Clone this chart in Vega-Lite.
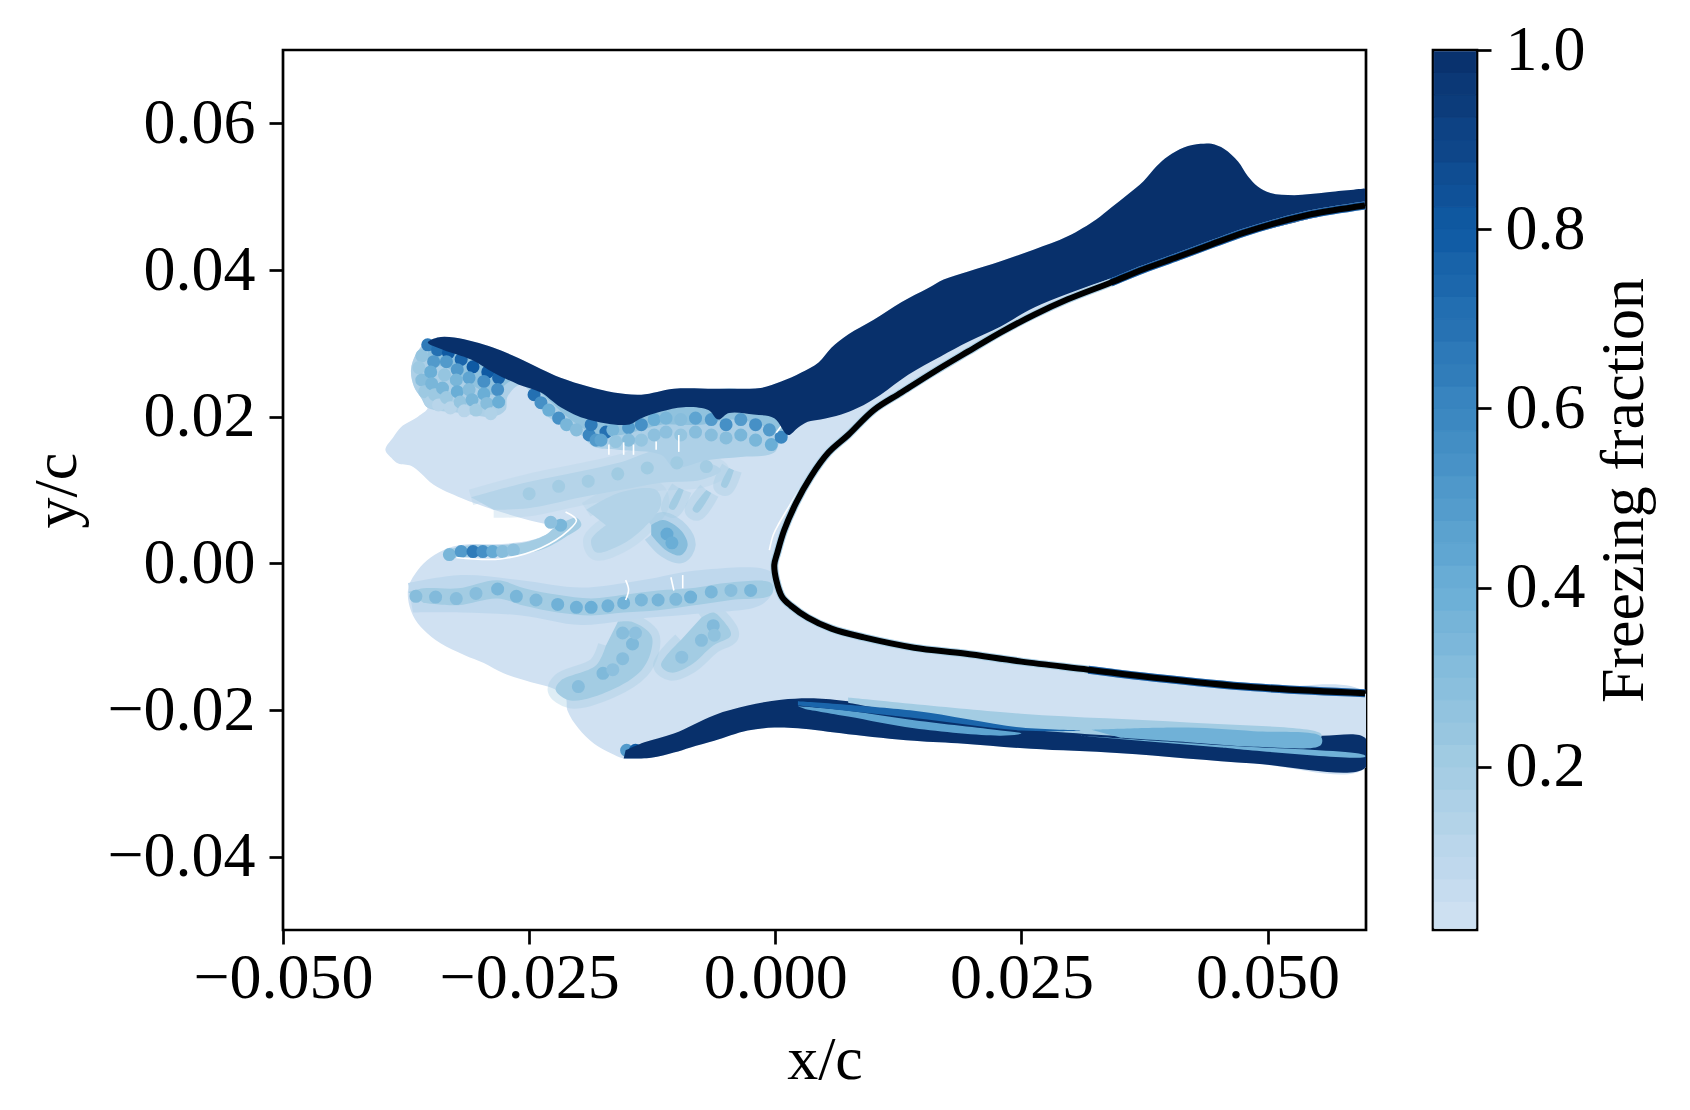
{"$schema":"https://vega.github.io/schema/vega-lite/v6.json","background":"white","padding":{"left":24,"top":16,"right":0,"bottom":0},"spacing":48,"config":{"font":"Liberation Serif","view":{"stroke":"black","strokeWidth":2.7}},
"hconcat":[
{"width":1083,"height":880,
"encoding":{
"x":{"field":"x","type":"quantitative","scale":{"domain":[-0.05,0.06],"nice":false,"zero":false},"axis":{"values":[-0.05,-0.025,0,0.025,0.05],"format":".3f","grid":false,"domain":false,"tickSize":14,"tickWidth":2.7,"tickColor":"black","labelFont":"Liberation Serif","labelFontSize":64,"labelColor":"black","labelPadding":2,"labelLimit":400,"title":"x/c","titleFont":"Liberation Serif","titleFontSize":62,"titleFontWeight":"normal","titleColor":"black","titlePadding":19,"labelFlush":false,"labelOverlap":false}},
"y":{"field":"y","type":"quantitative","scale":{"domain":[-0.05,0.07],"nice":false,"zero":false},"axis":{"values":[-0.04,-0.02,0,0.02,0.04,0.06],"format":".2f","grid":false,"domain":false,"tickSize":14,"tickWidth":2.7,"tickColor":"black","labelFont":"Liberation Serif","labelFontSize":64,"labelColor":"black","labelPadding":14,"labelLimit":400,"title":"y/c","titleFont":"Liberation Serif","titleFontSize":62,"titleFontWeight":"normal","titleColor":"black","titlePadding":18,"labelFlush":false,"labelOverlap":false}}
},
"layer":[
{"data":{"name":"base"},"transform":[{"window":[{"op":"row_number","as":"i"}]}],"mark":{"type":"line","stroke":"transparent","interpolate":"catmull-rom","clip":true},"encoding":{"order":{"field":"i","type":"quantitative"},"detail":{"field":"p"},"fill":{"field":"f","type":"quantitative","legend":null,"scale":{"domain":[0.018,0.2,0.4,0.6,0.8,1],"range":["#d0e1f2","#a3cce3","#6aaed6","#3a86c0","#0f5aa3","#08306b"]}}}},
{"data":{"name":"bands"},"transform":[{"window":[{"op":"row_number","as":"i"}]},{"filter":"datum.p!='U1'&&datum.p!='U2'&&datum.p!='L1'&&datum.p!='L2'&&datum.p!='H1'"}],"mark":{"type":"line","strokeWidth":16,"opacity":0.35,"strokeJoin":"round","interpolate":"catmull-rom","fill":"transparent"},"encoding":{"order":{"field":"i","type":"quantitative"},"detail":{"field":"p"},"stroke":{"field":"f","type":"quantitative","legend":null,"scale":{"domain":[0.018,0.2,0.4,0.6,0.8,1],"range":["#d0e1f2","#a3cce3","#6aaed6","#3a86c0","#0f5aa3","#08306b"]}}}},
{"data":{"name":"bands"},"transform":[{"window":[{"op":"row_number","as":"i"}]}],"mark":{"type":"line","stroke":"transparent","interpolate":"catmull-rom"},"encoding":{"order":{"field":"i","type":"quantitative"},"detail":{"field":"p"},"fill":{"field":"f","type":"quantitative","legend":null}}},
{"data":{"name":"scales"},"mark":{"type":"circle","size":170,"opacity":1},"encoding":{"fill":{"field":"f","type":"quantitative","legend":null}}},
{"data":{"name":"white"},"transform":[{"window":[{"op":"row_number","as":"i"}]}],"mark":{"type":"line","stroke":"white","strokeWidth":1.6,"interpolate":"catmull-rom"},"encoding":{"order":{"field":"i","type":"quantitative"},"detail":{"field":"p"}}},
{"data":{"name":"dark"},"transform":[{"window":[{"op":"row_number","as":"i"}]}],"mark":{"type":"line","stroke":"transparent","interpolate":"catmull-rom","clip":true},"encoding":{"order":{"field":"i","type":"quantitative"},"detail":{"field":"p"},"fill":{"field":"f","type":"quantitative","legend":null}}},
{"data":{"name":"foil"},"transform":[{"window":[{"op":"row_number","as":"i"}]}],"mark":{"type":"line","stroke":"#a9cfe6","strokeWidth":8,"interpolate":"catmull-rom"},"encoding":{"order":{"field":"i","type":"quantitative"}}},
{"data":{"name":"foil"},"transform":[{"window":[{"op":"row_number","as":"i"}]},{"filter":"datum.x>=0.03"}],"mark":{"type":"line","stroke":"#1c5fa8","strokeWidth":8,"interpolate":"catmull-rom"},"encoding":{"order":{"field":"i","type":"quantitative"},"detail":{"field":"s"}}},
{"data":{"name":"foil"},"transform":[{"window":[{"op":"row_number","as":"i"}]}],"mark":{"type":"line","stroke":"black","strokeWidth":6,"interpolate":"catmull-rom"},"encoding":{"order":{"field":"i","type":"quantitative"}}}
]},
{"width":44,"height":880,"data":{"name":"bar"},"mark":{"type":"rect","strokeWidth":1},
"encoding":{
"x":{"field":"a","type":"quantitative","axis":null,"scale":{"domain":[-0.03,1.03],"nice":false,"zero":false}},
"x2":{"field":"b"},
"y":{"field":"lo","type":"quantitative","scale":{"domain":[0.018,1],"nice":false,"zero":false},"axis":{"orient":"right","values":[0.2,0.4,0.6,0.8,1],"format":".1f","grid":false,"domain":false,"tickSize":14,"tickWidth":2.7,"tickColor":"black","labelFont":"Liberation Serif","labelFontSize":64,"labelColor":"black","labelPadding":14,"title":"Freezing fraction","titleFont":"Liberation Serif","titleFontSize":62,"titleFontWeight":"normal","titleColor":"black","titleAngle":270,"titleBaseline":"top","titlePadding":8,"labelFlush":false,"labelOverlap":false}},
"y2":{"field":"hi"},
"fill":{"field":"m","type":"quantitative","legend":null},
"stroke":{"field":"m","type":"quantitative","legend":null,"scale":{"domain":[0.018,0.2,0.4,0.6,0.8,1],"range":["#d0e1f2","#a3cce3","#6aaed6","#3a86c0","#0f5aa3","#08306b"]}}
}}
],
"resolve":{"scale":{"fill":"shared","stroke":"independent"}},
"datasets":{
"foil":[{"s":"l","x":0.0599,"y":-0.0177},{"s":"l","x":0.0486,"y":-0.0169},{"s":"l","x":0.0385,"y":-0.0156},{"s":"l","x":0.0318,"y":-0.0145},{"s":"l","x":0.025,"y":-0.0134},{"s":"l","x":0.0192,"y":-0.0123},{"s":"l","x":0.0141,"y":-0.0115},{"s":"l","x":0.009,"y":-0.0101},{"s":"l","x":0.0057,"y":-0.0089},{"s":"l","x":0.0033,"y":-0.0074},{"s":"l","x":0.0016,"y":-0.0058},{"s":"l","x":0.0007,"y":-0.0046},{"s":"l","x":0.0001,"y":-0.0023},{"s":"l","x":-0.0001,"y":-0.0002},{"s":"u","x":0.0002,"y":0.0014},{"s":"u","x":0.0009,"y":0.0045},{"s":"u","x":0.0021,"y":0.0082},{"s":"u","x":0.0036,"y":0.0118},{"s":"u","x":0.0054,"y":0.0151},{"s":"u","x":0.0074,"y":0.0175},{"s":"u","x":0.01,"y":0.0209},{"s":"u","x":0.0128,"y":0.0233},{"s":"u","x":0.0161,"y":0.0261},{"s":"u","x":0.0196,"y":0.0289},{"s":"u","x":0.0229,"y":0.0315},{"s":"u","x":0.0263,"y":0.0339},{"s":"u","x":0.0297,"y":0.036},{"s":"u","x":0.0341,"y":0.0383},{"s":"u","x":0.0374,"y":0.0401},{"s":"u","x":0.0409,"y":0.0418},{"s":"u","x":0.0443,"y":0.0435},{"s":"u","x":0.0476,"y":0.0451},{"s":"u","x":0.0511,"y":0.0465},{"s":"u","x":0.0544,"y":0.0476},{"s":"u","x":0.0599,"y":0.0488}],
"base":[{"p":"b","f":0.02,"x":0.0599,"y":0.0511},{"p":"b","f":0.02,"x":0.0561,"y":0.0506},{"p":"b","f":0.02,"x":0.0527,"y":0.0502},{"p":"b","f":0.02,"x":0.0503,"y":0.0505},{"p":"b","f":0.02,"x":0.049,"y":0.0514},{"p":"b","f":0.02,"x":0.048,"y":0.0528},{"p":"b","f":0.02,"x":0.047,"y":0.0548},{"p":"b","f":0.02,"x":0.0456,"y":0.0565},{"p":"b","f":0.02,"x":0.0443,"y":0.0572},{"p":"b","f":0.02,"x":0.0432,"y":0.0572},{"p":"b","f":0.02,"x":0.0415,"y":0.0567},{"p":"b","f":0.02,"x":0.0399,"y":0.0555},{"p":"b","f":0.02,"x":0.0387,"y":0.0541},{"p":"b","f":0.02,"x":0.0374,"y":0.0521},{"p":"b","f":0.02,"x":0.0358,"y":0.0503},{"p":"b","f":0.02,"x":0.0341,"y":0.0485},{"p":"b","f":0.02,"x":0.0326,"y":0.0469},{"p":"b","f":0.02,"x":0.0297,"y":0.0446},{"p":"b","f":0.02,"x":0.0263,"y":0.0428},{"p":"b","f":0.02,"x":0.0229,"y":0.0412},{"p":"b","f":0.02,"x":0.0196,"y":0.0398},{"p":"b","f":0.02,"x":0.0171,"y":0.0387},{"p":"b","f":0.02,"x":0.0155,"y":0.0375},{"p":"b","f":0.02,"x":0.0128,"y":0.0356},{"p":"b","f":0.02,"x":0.01,"y":0.0332},{"p":"b","f":0.02,"x":0.0074,"y":0.0312},{"p":"b","f":0.02,"x":0.0057,"y":0.0294},{"p":"b","f":0.02,"x":0.0044,"y":0.0274},{"p":"b","f":0.02,"x":0.0026,"y":0.026},{"p":"b","f":0.02,"x":0.0006,"y":0.0248},{"p":"b","f":0.02,"x":-0.0015,"y":0.0239},{"p":"b","f":0.02,"x":-0.0035,"y":0.0238},{"p":"b","f":0.02,"x":-0.0062,"y":0.0238},{"p":"b","f":0.02,"x":-0.0103,"y":0.0238},{"p":"b","f":0.02,"x":-0.0136,"y":0.023},{"p":"b","f":0.02,"x":-0.0164,"y":0.0233},{"p":"b","f":0.02,"x":-0.019,"y":0.0241},{"p":"b","f":0.02,"x":-0.0218,"y":0.0253},{"p":"b","f":0.02,"x":-0.0238,"y":0.0265},{"p":"b","f":0.02,"x":-0.0261,"y":0.028},{"p":"b","f":0.02,"x":-0.0286,"y":0.0294},{"p":"b","f":0.02,"x":-0.0306,"y":0.0302},{"p":"b","f":0.02,"x":-0.0326,"y":0.0308},{"p":"b","f":0.02,"x":-0.0343,"y":0.0308},{"p":"b","f":0.02,"x":-0.0355,"y":0.0301},{"p":"b","f":0.02,"x":-0.0365,"y":0.0285},{"p":"b","f":0.02,"x":-0.037,"y":0.0264},{"p":"b","f":0.02,"x":-0.0367,"y":0.0241},{"p":"b","f":0.02,"x":-0.036,"y":0.0226},{"p":"b","f":0.02,"x":-0.0353,"y":0.0212},{"p":"b","f":0.02,"x":-0.0363,"y":0.02},{"p":"b","f":0.02,"x":-0.038,"y":0.0186},{"p":"b","f":0.02,"x":-0.0388,"y":0.0172},{"p":"b","f":0.02,"x":-0.0396,"y":0.0155},{"p":"b","f":0.02,"x":-0.039,"y":0.0144},{"p":"b","f":0.02,"x":-0.0383,"y":0.0136},{"p":"b","f":0.02,"x":-0.037,"y":0.0133},{"p":"b","f":0.02,"x":-0.036,"y":0.0123},{"p":"b","f":0.02,"x":-0.0347,"y":0.0107},{"p":"b","f":0.02,"x":-0.0319,"y":0.0089},{"p":"b","f":0.02,"x":-0.0286,"y":0.0073},{"p":"b","f":0.02,"x":-0.0251,"y":0.0059},{"p":"b","f":0.02,"x":-0.0223,"y":0.0048},{"p":"b","f":0.02,"x":-0.0238,"y":0.0036},{"p":"b","f":0.02,"x":-0.0258,"y":0.0029},{"p":"b","f":0.02,"x":-0.0286,"y":0.0026},{"p":"b","f":0.02,"x":-0.0312,"y":0.0026},{"p":"b","f":0.02,"x":-0.0332,"y":0.0021},{"p":"b","f":0.02,"x":-0.035,"y":0.0008},{"p":"b","f":0.02,"x":-0.0363,"y":-0.0009},{"p":"b","f":0.02,"x":-0.0372,"y":-0.003},{"p":"b","f":0.02,"x":-0.0373,"y":-0.0048},{"p":"b","f":0.02,"x":-0.0368,"y":-0.0071},{"p":"b","f":0.02,"x":-0.0357,"y":-0.0091},{"p":"b","f":0.02,"x":-0.034,"y":-0.0109},{"p":"b","f":0.02,"x":-0.0316,"y":-0.0125},{"p":"b","f":0.02,"x":-0.0296,"y":-0.0136},{"p":"b","f":0.02,"x":-0.0276,"y":-0.015},{"p":"b","f":0.02,"x":-0.0248,"y":-0.0162},{"p":"b","f":0.02,"x":-0.0225,"y":-0.0171},{"p":"b","f":0.02,"x":-0.0213,"y":-0.0183},{"p":"b","f":0.02,"x":-0.0211,"y":-0.0201},{"p":"b","f":0.02,"x":-0.02,"y":-0.0225},{"p":"b","f":0.02,"x":-0.0184,"y":-0.0246},{"p":"b","f":0.02,"x":-0.0167,"y":-0.0259},{"p":"b","f":0.02,"x":-0.0154,"y":-0.0266},{"p":"b","f":0.02,"x":-0.0126,"y":-0.0265},{"p":"b","f":0.02,"x":-0.0103,"y":-0.0258},{"p":"b","f":0.02,"x":-0.0086,"y":-0.0251},{"p":"b","f":0.02,"x":-0.0062,"y":-0.0242},{"p":"b","f":0.02,"x":-0.0028,"y":-0.0228},{"p":"b","f":0.02,"x":-0.0001,"y":-0.0224},{"p":"b","f":0.02,"x":0.0023,"y":-0.0225},{"p":"b","f":0.02,"x":0.0074,"y":-0.0233},{"p":"b","f":0.02,"x":0.0141,"y":-0.0242},{"p":"b","f":0.02,"x":0.0192,"y":-0.0246},{"p":"b","f":0.02,"x":0.026,"y":-0.0253},{"p":"b","f":0.02,"x":0.0351,"y":-0.0259},{"p":"b","f":0.02,"x":0.0486,"y":-0.0273},{"p":"b","f":0.02,"x":0.0599,"y":-0.0279},{"p":"b","f":0.02,"x":0.0599,"y":-0.0177},{"p":"b","f":0.02,"x":0.0486,"y":-0.0169},{"p":"b","f":0.02,"x":0.0385,"y":-0.0156},{"p":"b","f":0.02,"x":0.0318,"y":-0.0145},{"p":"b","f":0.02,"x":0.025,"y":-0.0134},{"p":"b","f":0.02,"x":0.0192,"y":-0.0123},{"p":"b","f":0.02,"x":0.0141,"y":-0.0115},{"p":"b","f":0.02,"x":0.009,"y":-0.0101},{"p":"b","f":0.02,"x":0.0057,"y":-0.0089},{"p":"b","f":0.02,"x":0.0033,"y":-0.0074},{"p":"b","f":0.02,"x":0.0016,"y":-0.0058},{"p":"b","f":0.02,"x":0.0007,"y":-0.0046},{"p":"b","f":0.02,"x":0.0001,"y":-0.0023},{"p":"b","f":0.02,"x":-0.0001,"y":-0.0002},{"p":"b","f":0.02,"x":0.0002,"y":0.0014},{"p":"b","f":0.02,"x":0.0009,"y":0.0045},{"p":"b","f":0.02,"x":0.0021,"y":0.0082},{"p":"b","f":0.02,"x":0.0036,"y":0.0118},{"p":"b","f":0.02,"x":0.0054,"y":0.0151},{"p":"b","f":0.02,"x":0.0074,"y":0.0175},{"p":"b","f":0.02,"x":0.01,"y":0.0209},{"p":"b","f":0.02,"x":0.0128,"y":0.0233},{"p":"b","f":0.02,"x":0.0161,"y":0.0261},{"p":"b","f":0.02,"x":0.0196,"y":0.0289},{"p":"b","f":0.02,"x":0.0229,"y":0.0315},{"p":"b","f":0.02,"x":0.0263,"y":0.0339},{"p":"b","f":0.02,"x":0.0297,"y":0.036},{"p":"b","f":0.02,"x":0.0341,"y":0.0383},{"p":"b","f":0.02,"x":0.0374,"y":0.0401},{"p":"b","f":0.02,"x":0.0409,"y":0.0418},{"p":"b","f":0.02,"x":0.0443,"y":0.0435},{"p":"b","f":0.02,"x":0.0476,"y":0.0451},{"p":"b","f":0.02,"x":0.0511,"y":0.0465},{"p":"b","f":0.02,"x":0.0544,"y":0.0476},{"p":"b","f":0.02,"x":0.0599,"y":0.0488}],
"bands":[
{"p":"L1","f":0.09,"x":-0.0373,"y":-0.0027},{"p":"L1","f":0.09,"x":-0.0319,"y":-0.0016},{"p":"L1","f":0.09,"x":-0.0258,"y":-0.0023},{"p":"L1","f":0.09,"x":-0.0197,"y":-0.0033},{"p":"L1","f":0.09,"x":-0.0136,"y":-0.0023},{"p":"L1","f":0.09,"x":-0.0075,"y":-0.0009},{"p":"L1","f":0.09,"x":-0.0004,"y":-0.0012},{"p":"L1","f":0.09,"x":-0.0002,"y":-0.0037},{"p":"L1","f":0.09,"x":-0.0015,"y":-0.0057},{"p":"L1","f":0.09,"x":-0.0075,"y":-0.0068},{"p":"L1","f":0.09,"x":-0.0136,"y":-0.0075},{"p":"L1","f":0.09,"x":-0.0197,"y":-0.0084},{"p":"L1","f":0.09,"x":-0.0258,"y":-0.0071},{"p":"L1","f":0.09,"x":-0.0319,"y":-0.0067},{"p":"L1","f":0.09,"x":-0.0368,"y":-0.0067},
{"p":"L2","f":0.2,"x":-0.0373,"y":-0.0039},{"p":"L2","f":0.2,"x":-0.0357,"y":-0.0034},{"p":"L2","f":0.2,"x":-0.0322,"y":-0.0034},{"p":"L2","f":0.2,"x":-0.0282,"y":-0.0023},{"p":"L2","f":0.2,"x":-0.0255,"y":-0.0034},{"p":"L2","f":0.2,"x":-0.0221,"y":-0.0043},{"p":"L2","f":0.2,"x":-0.0187,"y":-0.0048},{"p":"L2","f":0.2,"x":-0.0154,"y":-0.0043},{"p":"L2","f":0.2,"x":-0.0119,"y":-0.0037},{"p":"L2","f":0.2,"x":-0.0086,"y":-0.0034},{"p":"L2","f":0.2,"x":-0.0045,"y":-0.0026},{"p":"L2","f":0.2,"x":-0.0004,"y":-0.0027},{"p":"L2","f":0.2,"x":-0.0004,"y":-0.0043},{"p":"L2","f":0.2,"x":-0.0045,"y":-0.005},{"p":"L2","f":0.2,"x":-0.0086,"y":-0.0058},{"p":"L2","f":0.2,"x":-0.0119,"y":-0.0064},{"p":"L2","f":0.2,"x":-0.0154,"y":-0.0067},{"p":"L2","f":0.2,"x":-0.0187,"y":-0.0071},{"p":"L2","f":0.2,"x":-0.0221,"y":-0.0067},{"p":"L2","f":0.2,"x":-0.0255,"y":-0.0058},{"p":"L2","f":0.2,"x":-0.0282,"y":-0.0048},{"p":"L2","f":0.2,"x":-0.0322,"y":-0.0057},{"p":"L2","f":0.2,"x":-0.0357,"y":-0.0054},
{"p":"B1","f":0.2,"x":-0.016,"y":-0.008},{"p":"B1","f":0.2,"x":-0.0145,"y":-0.008},{"p":"B1","f":0.2,"x":-0.0126,"y":-0.0098},{"p":"B1","f":0.2,"x":-0.0126,"y":-0.0119},{"p":"B1","f":0.2,"x":-0.0136,"y":-0.0146},{"p":"B1","f":0.2,"x":-0.0167,"y":-0.0173},{"p":"B1","f":0.2,"x":-0.0208,"y":-0.0187},{"p":"B1","f":0.2,"x":-0.0223,"y":-0.0173},{"p":"B1","f":0.2,"x":-0.0218,"y":-0.016},{"p":"B1","f":0.2,"x":-0.0182,"y":-0.0139},{"p":"B1","f":0.2,"x":-0.0172,"y":-0.0112},
{"p":"B2","f":0.2,"x":-0.0075,"y":-0.0074},{"p":"B2","f":0.2,"x":-0.0063,"y":-0.0067},{"p":"B2","f":0.2,"x":-0.0053,"y":-0.0078},{"p":"B2","f":0.2,"x":-0.0045,"y":-0.0098},{"p":"B2","f":0.2,"x":-0.0063,"y":-0.0112},{"p":"B2","f":0.2,"x":-0.0086,"y":-0.0139},{"p":"B2","f":0.2,"x":-0.0106,"y":-0.0149},{"p":"B2","f":0.2,"x":-0.0116,"y":-0.0139},{"p":"B2","f":0.2,"x":-0.0096,"y":-0.0105},
{"p":"M","f":0.13,"x":-0.0309,"y":0.009},{"p":"M","f":0.13,"x":-0.0251,"y":0.0111},{"p":"M","f":0.13,"x":-0.02,"y":0.0125},{"p":"M","f":0.13,"x":-0.0157,"y":0.0138},{"p":"M","f":0.13,"x":-0.0116,"y":0.0155},{"p":"M","f":0.13,"x":-0.0075,"y":0.0141},{"p":"M","f":0.13,"x":-0.0055,"y":0.0127},{"p":"M","f":0.13,"x":-0.0075,"y":0.0114},{"p":"M","f":0.13,"x":-0.0116,"y":0.011},{"p":"M","f":0.13,"x":-0.0157,"y":0.01},{"p":"M","f":0.13,"x":-0.0197,"y":0.009},{"p":"M","f":0.13,"x":-0.0251,"y":0.0075},{"p":"M","f":0.13,"x":-0.0286,"y":0.0073},
{"p":"H1","f":0.2,"x":-0.0332,"y":0.0019},{"p":"H1","f":0.2,"x":-0.0309,"y":0.0025},{"p":"H1","f":0.2,"x":-0.0279,"y":0.0025},{"p":"H1","f":0.2,"x":-0.0253,"y":0.0029},{"p":"H1","f":0.2,"x":-0.0233,"y":0.0039},{"p":"H1","f":0.2,"x":-0.0225,"y":0.0048},{"p":"H1","f":0.2,"x":-0.0202,"y":0.0062},{"p":"H1","f":0.2,"x":-0.0197,"y":0.0052},{"p":"H1","f":0.2,"x":-0.0213,"y":0.0036},{"p":"H1","f":0.2,"x":-0.0233,"y":0.0021},{"p":"H1","f":0.2,"x":-0.0263,"y":0.0011},{"p":"H1","f":0.2,"x":-0.0299,"y":0.001},{"p":"H1","f":0.2,"x":-0.0329,"y":0.0007},
{"p":"H2","f":0.14,"x":-0.0192,"y":0.0073},{"p":"H2","f":0.14,"x":-0.0157,"y":0.0097},{"p":"H2","f":0.14,"x":-0.0121,"y":0.01},{"p":"H2","f":0.14,"x":-0.0116,"y":0.008},{"p":"H2","f":0.14,"x":-0.0136,"y":0.0045},{"p":"H2","f":0.14,"x":-0.0157,"y":0.0025},{"p":"H2","f":0.14,"x":-0.0182,"y":0.0015},{"p":"H2","f":0.14,"x":-0.0187,"y":0.0032},{"p":"H2","f":0.14,"x":-0.0172,"y":0.0052},
{"p":"P1","f":0.3,"x":-0.0126,"y":0.0052},{"p":"P1","f":0.3,"x":-0.0114,"y":0.0059},{"p":"P1","f":0.3,"x":-0.0096,"y":0.0045},{"p":"P1","f":0.3,"x":-0.0089,"y":0.0025},{"p":"P1","f":0.3,"x":-0.0096,"y":0.0011},{"p":"P1","f":0.3,"x":-0.0111,"y":0.0018},{"p":"P1","f":0.3,"x":-0.0126,"y":0.0039},
{"p":"S1","f":0.2,"x":-0.0093,"y":0.01},{"p":"S1","f":0.2,"x":-0.0103,"y":0.0073},{"p":"S1","f":0.2,"x":-0.0108,"y":0.0076},{"p":"S1","f":0.2,"x":-0.0098,"y":0.0103},
{"p":"S2","f":0.2,"x":-0.0065,"y":0.0096},{"p":"S2","f":0.2,"x":-0.0079,"y":0.0069},{"p":"S2","f":0.2,"x":-0.0084,"y":0.0073},{"p":"S2","f":0.2,"x":-0.007,"y":0.01},
{"p":"S3","f":0.2,"x":-0.0042,"y":0.0127},{"p":"S3","f":0.2,"x":-0.005,"y":0.0103},{"p":"S3","f":0.2,"x":-0.0055,"y":0.0106},{"p":"S3","f":0.2,"x":-0.0047,"y":0.013},
{"p":"U1","f":0.16,"x":-0.0343,"y":0.0308},{"p":"U1","f":0.16,"x":-0.0355,"y":0.0301},{"p":"U1","f":0.16,"x":-0.0365,"y":0.0285},{"p":"U1","f":0.16,"x":-0.037,"y":0.0264},{"p":"U1","f":0.16,"x":-0.0367,"y":0.0241},{"p":"U1","f":0.16,"x":-0.036,"y":0.0226},{"p":"U1","f":0.16,"x":-0.0353,"y":0.0212},{"p":"U1","f":0.16,"x":-0.0319,"y":0.0205},{"p":"U1","f":0.16,"x":-0.0286,"y":0.02},{"p":"U1","f":0.16,"x":-0.0274,"y":0.0209},{"p":"U1","f":0.16,"x":-0.0272,"y":0.0227},{"p":"U1","f":0.16,"x":-0.0258,"y":0.0244},{"p":"U1","f":0.16,"x":-0.0231,"y":0.02},{"p":"U1","f":0.16,"x":-0.02,"y":0.0178},{"p":"U1","f":0.16,"x":-0.0184,"y":0.0159},{"p":"U1","f":0.16,"x":-0.016,"y":0.0155},{"p":"U1","f":0.16,"x":-0.0116,"y":0.0148},{"p":"U1","f":0.16,"x":-0.0103,"y":0.0131},{"p":"U1","f":0.16,"x":-0.0068,"y":0.0141},{"p":"U1","f":0.16,"x":-0.0035,"y":0.0145},{"p":"U1","f":0.16,"x":-0.0001,"y":0.0151},{"p":"U1","f":0.16,"x":0.0006,"y":0.0171},{"p":"U1","f":0.16,"x":0.0013,"y":0.0175},{"p":"U1","f":0.16,"x":0.0013,"y":0.0196},{"p":"U1","f":0.16,"x":-0.0136,"y":0.0223},{"p":"U1","f":0.16,"x":-0.0238,"y":0.025},{"p":"U1","f":0.16,"x":-0.0286,"y":0.0278},
{"p":"U2","f":0.27,"x":-0.035,"y":0.0298},{"p":"U2","f":0.27,"x":-0.0353,"y":0.0278},{"p":"U2","f":0.27,"x":-0.0329,"y":0.0264},{"p":"U2","f":0.27,"x":-0.0309,"y":0.0244},{"p":"U2","f":0.27,"x":-0.0284,"y":0.023},{"p":"U2","f":0.27,"x":-0.0274,"y":0.0244},{"p":"U2","f":0.27,"x":-0.0258,"y":0.0253},{"p":"U2","f":0.27,"x":-0.0233,"y":0.0226},{"p":"U2","f":0.27,"x":-0.0208,"y":0.0196},{"p":"U2","f":0.27,"x":-0.0187,"y":0.0179},{"p":"U2","f":0.27,"x":-0.0157,"y":0.0175},{"p":"U2","f":0.27,"x":-0.0136,"y":0.0182},{"p":"U2","f":0.27,"x":-0.0116,"y":0.0189},{"p":"U2","f":0.27,"x":-0.0096,"y":0.0189},{"p":"U2","f":0.27,"x":-0.0075,"y":0.0189},{"p":"U2","f":0.27,"x":-0.0045,"y":0.0196},{"p":"U2","f":0.27,"x":-0.0015,"y":0.0189},{"p":"U2","f":0.27,"x":0.0006,"y":0.0175},{"p":"U2","f":0.27,"x":0.0013,"y":0.0175},{"p":"U2","f":0.27,"x":0.0026,"y":0.0196},{"p":"U2","f":0.27,"x":-0.0035,"y":0.0237},{"p":"U2","f":0.27,"x":-0.0136,"y":0.0223},{"p":"U2","f":0.27,"x":-0.0238,"y":0.025},{"p":"U2","f":0.27,"x":-0.0286,"y":0.0278}
],
"scales":[
{"f":0.3,"x":-0.0155,"y":-0.0095},{"f":0.33,"x":-0.0145,"y":-0.011},{"f":0.3,"x":-0.0155,"y":-0.013},{"f":0.33,"x":-0.0175,"y":-0.015},{"f":0.3,"x":-0.02,"y":-0.0168},{"f":0.28,"x":-0.0142,"y":-0.0095},{"f":0.28,"x":-0.0165,"y":-0.0145},
{"f":0.32,"x":-0.0063,"y":-0.0085},{"f":0.3,"x":-0.0075,"y":-0.0105},{"f":0.28,"x":-0.0095,"y":-0.0128},{"f":0.27,"x":-0.0062,"y":-0.0098},
{"f":0.42,"x":-0.011,"y":0.004},{"f":0.4,"x":-0.0105,"y":0.0028},
{"f":0.2,"x":-0.025,"y":0.0095},{"f":0.2,"x":-0.022,"y":0.0105},{"f":0.2,"x":-0.019,"y":0.0112},{"f":0.21,"x":-0.016,"y":0.0122},{"f":0.21,"x":-0.013,"y":0.013},{"f":0.21,"x":-0.01,"y":0.0137},{"f":0.2,"x":-0.007,"y":0.0132},
{"f":0.25,"x":-0.0359,"y":0.0283},{"f":0.22,"x":-0.0362,"y":0.0267},{"f":0.3,"x":-0.0359,"y":0.025},{"f":0.22,"x":-0.0356,"y":0.0234},{"f":0.15,"x":-0.035,"y":0.022},
{"f":0.65,"x":-0.0353,"y":0.0298},{"f":0.7,"x":-0.0343,"y":0.0291},{"f":0.5,"x":-0.0347,"y":0.0275},{"f":0.4,"x":-0.035,"y":0.0261},{"f":0.35,"x":-0.0349,"y":0.0245},{"f":0.22,"x":-0.0346,"y":0.023},{"f":0.12,"x":-0.0342,"y":0.0216},
{"f":0.8,"x":-0.0332,"y":0.0287},{"f":0.5,"x":-0.0334,"y":0.0275},{"f":0.25,"x":-0.0336,"y":0.0257},{"f":0.35,"x":-0.0338,"y":0.0239},{"f":0.22,"x":-0.0334,"y":0.0226},{"f":0.12,"x":-0.033,"y":0.0212},
{"f":0.75,"x":-0.0319,"y":0.0278},{"f":0.5,"x":-0.0323,"y":0.0264},{"f":0.35,"x":-0.0324,"y":0.025},{"f":0.4,"x":-0.0323,"y":0.0234},{"f":0.25,"x":-0.032,"y":0.022},{"f":0.12,"x":-0.0316,"y":0.0208},
{"f":0.8,"x":-0.0307,"y":0.0268},{"f":0.45,"x":-0.0311,"y":0.0253},{"f":0.3,"x":-0.0311,"y":0.0237},{"f":0.35,"x":-0.0308,"y":0.0223},{"f":0.2,"x":-0.0304,"y":0.0209},
{"f":0.8,"x":-0.0292,"y":0.0261},{"f":0.55,"x":-0.0296,"y":0.0248},{"f":0.4,"x":-0.0296,"y":0.0231},{"f":0.3,"x":-0.0293,"y":0.0218},{"f":0.15,"x":-0.0289,"y":0.0204},
{"f":0.75,"x":-0.0281,"y":0.0253},{"f":0.55,"x":-0.0282,"y":0.0237},{"f":0.4,"x":-0.0281,"y":0.022},
{"f":0.7,"x":-0.0245,"y":0.023},{"f":0.55,"x":-0.0238,"y":0.0219},{"f":0.4,"x":-0.023,"y":0.0209},{"f":0.55,"x":-0.022,"y":0.0198},{"f":0.35,"x":-0.0212,"y":0.0189},{"f":0.3,"x":-0.0202,"y":0.0182},{"f":0.6,"x":-0.0189,"y":0.0175},{"f":0.5,"x":-0.0182,"y":0.0168},{"f":0.65,"x":-0.0187,"y":0.0189},{"f":0.7,"x":-0.0172,"y":0.0179},{"f":0.45,"x":-0.0177,"y":0.0168},{"f":0.35,"x":-0.0165,"y":0.0182},{"f":0.25,"x":-0.0162,"y":0.0166},{"f":0.5,"x":-0.0149,"y":0.0185},{"f":0.3,"x":-0.0149,"y":0.0168},{"f":0.55,"x":-0.0136,"y":0.0189},{"f":0.25,"x":-0.0136,"y":0.0168},{"f":0.4,"x":-0.0123,"y":0.0196},{"f":0.28,"x":-0.0123,"y":0.0175},{"f":0.35,"x":-0.0111,"y":0.0198},{"f":0.28,"x":-0.0111,"y":0.0179},{"f":0.3,"x":-0.0096,"y":0.0196},{"f":0.25,"x":-0.0096,"y":0.0175},{"f":0.45,"x":-0.0081,"y":0.0198},{"f":0.3,"x":-0.0081,"y":0.0179},{"f":0.5,"x":-0.0065,"y":0.0196},{"f":0.3,"x":-0.0065,"y":0.0175},{"f":0.55,"x":-0.005,"y":0.0189},{"f":0.3,"x":-0.005,"y":0.0171},{"f":0.5,"x":-0.0035,"y":0.0196},{"f":0.35,"x":-0.0035,"y":0.0175},{"f":0.55,"x":-0.002,"y":0.0189},{"f":0.35,"x":-0.002,"y":0.0168},{"f":0.5,"x":-0.0006,"y":0.0182},{"f":0.4,"x":-0.0004,"y":0.0162},{"f":0.6,"x":0.0006,"y":0.0172},
{"f":0.3,"x":-0.0365,"y":-0.0045},{"f":0.32,"x":-0.0345,"y":-0.0046},{"f":0.3,"x":-0.0324,"y":-0.0048},{"f":0.3,"x":-0.0304,"y":-0.0041},{"f":0.35,"x":-0.0282,"y":-0.0035},{"f":0.35,"x":-0.0263,"y":-0.0045},{"f":0.33,"x":-0.0243,"y":-0.005},{"f":0.38,"x":-0.0221,"y":-0.0056},{"f":0.38,"x":-0.0202,"y":-0.006},{"f":0.4,"x":-0.0187,"y":-0.006},{"f":0.38,"x":-0.017,"y":-0.0058},{"f":0.38,"x":-0.0154,"y":-0.0054},{"f":0.35,"x":-0.0136,"y":-0.005},{"f":0.36,"x":-0.0119,"y":-0.005},{"f":0.33,"x":-0.0101,"y":-0.0049},{"f":0.38,"x":-0.0086,"y":-0.0046},{"f":0.35,"x":-0.0065,"y":-0.0039},{"f":0.3,"x":-0.0045,"y":-0.0037},{"f":0.35,"x":-0.0025,"y":-0.0037},
{"f":0.35,"x":-0.0331,"y":0.0012},{"f":0.5,"x":-0.0319,"y":0.0016},{"f":0.65,"x":-0.0307,"y":0.0016},{"f":0.55,"x":-0.0297,"y":0.0016},{"f":0.42,"x":-0.0287,"y":0.0016},{"f":0.3,"x":-0.0277,"y":0.0016},{"f":0.28,"x":-0.0266,"y":0.0018},
{"f":0.35,"x":-0.0218,"y":0.0052},{"f":0.28,"x":-0.0228,"y":0.0056},
{"f":0.5,"x":-0.0151,"y":-0.0255},{"f":0.8,"x":-0.0142,"y":-0.0255}
],
"white":[
{"p":"a","x":-0.0006,"y":0.0018},{"p":"a","x":-0.0002,"y":0.0039},{"p":"a","x":0.0004,"y":0.0055},{"p":"a","x":0.0016,"y":0.0082},{"p":"a","x":0.0029,"y":0.011},
{"p":"b","x":0.0009,"y":-0.0054},{"p":"b","x":0.0021,"y":-0.0068},{"p":"b","x":0.0033,"y":-0.0078},
{"p":"c","x":-0.0324,"y":0.0008},{"p":"c","x":-0.0279,"y":0.0006},{"p":"c","x":-0.0238,"y":0.0021},{"p":"c","x":-0.021,"y":0.0045},{"p":"c","x":-0.0202,"y":0.0059},{"p":"c","x":-0.0213,"y":0.007},
{"p":"d","x":-0.0152,"y":-0.0023},{"p":"d","x":-0.0149,"y":-0.0036},{"p":"d","x":-0.0152,"y":-0.005},
{"p":"e","x":-0.0106,"y":-0.0019},{"p":"e","x":-0.0103,"y":-0.0037},
{"p":"f","x":-0.0094,"y":-0.0016},{"p":"f","x":-0.0094,"y":-0.0034},
{"p":"g","x":-0.0169,"y":0.0162},{"p":"g","x":-0.0169,"y":0.0148},
{"p":"h","x":-0.0154,"y":0.0165},{"p":"h","x":-0.0154,"y":0.0148},
{"p":"i","x":-0.0144,"y":0.0162},{"p":"i","x":-0.0144,"y":0.0148},
{"p":"j","x":-0.0098,"y":0.0175},{"p":"j","x":-0.0098,"y":0.0152},
{"p":"k","x":-0.0121,"y":0.0166},{"p":"k","x":-0.0121,"y":0.0155},
{"p":"l","x":0.0011,"y":0.0196},{"p":"l","x":0.0001,"y":0.0178}
],
"dark":[
{"p":"top","f":1,"x":0.0599,"y":0.0511},{"p":"top","f":1,"x":0.0561,"y":0.0506},{"p":"top","f":1,"x":0.0527,"y":0.0502},{"p":"top","f":1,"x":0.0503,"y":0.0505},{"p":"top","f":1,"x":0.049,"y":0.0514},{"p":"top","f":1,"x":0.048,"y":0.0528},{"p":"top","f":1,"x":0.047,"y":0.0548},{"p":"top","f":1,"x":0.0456,"y":0.0565},{"p":"top","f":1,"x":0.0443,"y":0.0572},{"p":"top","f":1,"x":0.0432,"y":0.0572},{"p":"top","f":1,"x":0.0415,"y":0.0567},{"p":"top","f":1,"x":0.0399,"y":0.0555},{"p":"top","f":1,"x":0.0387,"y":0.0541},{"p":"top","f":1,"x":0.0374,"y":0.0521},{"p":"top","f":1,"x":0.0358,"y":0.0503},{"p":"top","f":1,"x":0.0341,"y":0.0485},{"p":"top","f":1,"x":0.0326,"y":0.0469},{"p":"top","f":1,"x":0.0297,"y":0.0446},{"p":"top","f":1,"x":0.0263,"y":0.0428},{"p":"top","f":1,"x":0.0229,"y":0.0412},{"p":"top","f":1,"x":0.0196,"y":0.0398},{"p":"top","f":1,"x":0.0171,"y":0.0387},{"p":"top","f":1,"x":0.0155,"y":0.0375},{"p":"top","f":1,"x":0.0128,"y":0.0356},{"p":"top","f":1,"x":0.01,"y":0.0332},{"p":"top","f":1,"x":0.0074,"y":0.0312},{"p":"top","f":1,"x":0.0057,"y":0.0294},{"p":"top","f":1,"x":0.0044,"y":0.0274},{"p":"top","f":1,"x":0.0026,"y":0.026},{"p":"top","f":1,"x":0.0006,"y":0.0248},{"p":"top","f":1,"x":-0.0015,"y":0.0239},{"p":"top","f":1,"x":-0.0035,"y":0.0238},{"p":"top","f":1,"x":-0.0062,"y":0.0238},{"p":"top","f":1,"x":-0.0103,"y":0.0238},{"p":"top","f":1,"x":-0.0136,"y":0.023},{"p":"top","f":1,"x":-0.0164,"y":0.0233},{"p":"top","f":1,"x":-0.019,"y":0.0241},{"p":"top","f":1,"x":-0.0218,"y":0.0253},{"p":"top","f":1,"x":-0.0238,"y":0.0265},{"p":"top","f":1,"x":-0.0261,"y":0.028},{"p":"top","f":1,"x":-0.0286,"y":0.0294},{"p":"top","f":1,"x":-0.0306,"y":0.0302},{"p":"top","f":1,"x":-0.0326,"y":0.0308},{"p":"top","f":1,"x":-0.0343,"y":0.0308},{"p":"top","f":1,"x":-0.0353,"y":0.0301},
{"p":"top","f":1,"x":-0.0337,"y":0.0291},{"p":"top","f":1,"x":-0.0309,"y":0.0278},{"p":"top","f":1,"x":-0.0286,"y":0.026},{"p":"top","f":1,"x":-0.0261,"y":0.0244},{"p":"top","f":1,"x":-0.0238,"y":0.0233},{"p":"top","f":1,"x":-0.0218,"y":0.0213},{"p":"top","f":1,"x":-0.019,"y":0.0196},{"p":"top","f":1,"x":-0.015,"y":0.0189},{"p":"top","f":1,"x":-0.0136,"y":0.0198},{"p":"top","f":1,"x":-0.0116,"y":0.0207},{"p":"top","f":1,"x":-0.0093,"y":0.0213},{"p":"top","f":1,"x":-0.0068,"y":0.0209},{"p":"top","f":1,"x":-0.0058,"y":0.0196},{"p":"top","f":1,"x":-0.0047,"y":0.0205},{"p":"top","f":1,"x":-0.0022,"y":0.0203},{"p":"top","f":1,"x":-0.0001,"y":0.0198},{"p":"top","f":1,"x":0.0013,"y":0.0175},{"p":"top","f":1,"x":0.0023,"y":0.0185},{"p":"top","f":1,"x":0.0033,"y":0.0193},{"p":"top","f":1,"x":0.0046,"y":0.0196},{"p":"top","f":1,"x":0.0067,"y":0.0203},{"p":"top","f":1,"x":0.0084,"y":0.0212},{"p":"top","f":1,"x":0.0107,"y":0.023},{"p":"top","f":1,"x":0.0135,"y":0.0257},{"p":"top","f":1,"x":0.0168,"y":0.0282},{"p":"top","f":1,"x":0.0196,"y":0.0302},{"p":"top","f":1,"x":0.0229,"y":0.0323},{"p":"top","f":1,"x":0.0263,"y":0.0349},{"p":"top","f":1,"x":0.0331,"y":0.0384},{"p":"top","f":1,"x":0.0409,"y":0.0418},{"p":"top","f":1,"x":0.0443,"y":0.0435},{"p":"top","f":1,"x":0.0599,"y":0.0488},
{"p":"bot","f":1,"x":-0.0152,"y":-0.0255},{"p":"bot","f":1,"x":-0.0133,"y":-0.0244},{"p":"bot","f":1,"x":-0.0103,"y":-0.0232},{"p":"bot","f":1,"x":-0.0062,"y":-0.0207},{"p":"bot","f":1,"x":-0.0028,"y":-0.0194},{"p":"bot","f":1,"x":0.0006,"y":-0.0186},{"p":"bot","f":1,"x":0.0039,"y":-0.0184},{"p":"bot","f":1,"x":0.0074,"y":-0.0188},{"p":"bot","f":1,"x":0.0141,"y":-0.0197},{"p":"bot","f":1,"x":0.0192,"y":-0.0207},{"p":"bot","f":1,"x":0.025,"y":-0.0224},{"p":"bot","f":1,"x":0.0351,"y":-0.0231},{"p":"bot","f":1,"x":0.0486,"y":-0.0236},{"p":"bot","f":1,"x":0.0554,"y":-0.0235},{"p":"bot","f":1,"x":0.0599,"y":-0.0238},{"p":"bot","f":1,"x":0.0599,"y":-0.0279},{"p":"bot","f":1,"x":0.0486,"y":-0.0273},{"p":"bot","f":1,"x":0.0351,"y":-0.0259},{"p":"bot","f":1,"x":0.026,"y":-0.0253},{"p":"bot","f":1,"x":0.0192,"y":-0.0246},{"p":"bot","f":1,"x":0.0141,"y":-0.0242},{"p":"bot","f":1,"x":0.0074,"y":-0.0233},{"p":"bot","f":1,"x":0.0023,"y":-0.0225},{"p":"bot","f":1,"x":-0.0001,"y":-0.0224},{"p":"bot","f":1,"x":-0.0028,"y":-0.0228},{"p":"bot","f":1,"x":-0.0062,"y":-0.0242},{"p":"bot","f":1,"x":-0.0086,"y":-0.0251},{"p":"bot","f":1,"x":-0.0103,"y":-0.0258},{"p":"bot","f":1,"x":-0.0126,"y":-0.0265},{"p":"bot","f":1,"x":-0.0154,"y":-0.0266},
{"p":"g1","f":0.2,"x":0.0074,"y":-0.0183},{"p":"g1","f":0.2,"x":0.025,"y":-0.0205},{"p":"g1","f":0.2,"x":0.0419,"y":-0.0217},{"p":"g1","f":0.2,"x":0.0554,"y":-0.0232},{"p":"g1","f":0.2,"x":0.0554,"y":-0.0238},{"p":"g1","f":0.2,"x":0.025,"y":-0.0226},{"p":"g1","f":0.2,"x":0.0074,"y":-0.019},
{"p":"g2","f":0.38,"x":0.0321,"y":-0.0227},{"p":"g2","f":0.38,"x":0.0419,"y":-0.0224},{"p":"g2","f":0.38,"x":0.0486,"y":-0.0229},{"p":"g2","f":0.38,"x":0.0554,"y":-0.0236},{"p":"g2","f":0.38,"x":0.0554,"y":-0.0248},{"p":"g2","f":0.38,"x":0.0486,"y":-0.025},{"p":"g2","f":0.38,"x":0.0419,"y":-0.0244},{"p":"g2","f":0.38,"x":0.0351,"y":-0.0238},
{"p":"g3","f":0.45,"x":0.0023,"y":-0.0195},{"p":"g3","f":0.45,"x":0.0074,"y":-0.0201},{"p":"g3","f":0.45,"x":0.0141,"y":-0.0214},{"p":"g3","f":0.45,"x":0.0229,"y":-0.0228},{"p":"g3","f":0.45,"x":0.025,"y":-0.0232},{"p":"g3","f":0.45,"x":0.0229,"y":-0.0235},{"p":"g3","f":0.45,"x":0.0141,"y":-0.0225},{"p":"g3","f":0.45,"x":0.0074,"y":-0.0209},{"p":"g3","f":0.45,"x":0.0031,"y":-0.0199},
{"p":"g4","f":0.75,"x":0.0023,"y":-0.0188},{"p":"g4","f":0.75,"x":0.0141,"y":-0.0201},{"p":"g4","f":0.75,"x":0.025,"y":-0.0224},{"p":"g4","f":0.75,"x":0.031,"y":-0.0228},{"p":"g4","f":0.75,"x":0.025,"y":-0.0228},{"p":"g4","f":0.75,"x":0.0141,"y":-0.0211},{"p":"g4","f":0.75,"x":0.0023,"y":-0.0194},
{"p":"g5","f":0.38,"x":0.031,"y":-0.0235},{"p":"g5","f":0.38,"x":0.0453,"y":-0.0248},{"p":"g5","f":0.38,"x":0.0599,"y":-0.0262},{"p":"g5","f":0.38,"x":0.0599,"y":-0.0264},{"p":"g5","f":0.38,"x":0.0453,"y":-0.0251}
],
"bar":[{"a":0,"b":1,"lo":0.02,"hi":0.05,"m":0.03},{"a":0,"b":1,"lo":0.05,"hi":0.075,"m":0.06},{"a":0,"b":1,"lo":0.075,"hi":0.1,"m":0.09},{"a":0,"b":1,"lo":0.1,"hi":0.125,"m":0.11},{"a":0,"b":1,"lo":0.125,"hi":0.15,"m":0.14},{"a":0,"b":1,"lo":0.15,"hi":0.175,"m":0.16},{"a":0,"b":1,"lo":0.175,"hi":0.2,"m":0.19},{"a":0,"b":1,"lo":0.2,"hi":0.225,"m":0.21},{"a":0,"b":1,"lo":0.225,"hi":0.25,"m":0.24},{"a":0,"b":1,"lo":0.25,"hi":0.275,"m":0.26},{"a":0,"b":1,"lo":0.275,"hi":0.3,"m":0.29},{"a":0,"b":1,"lo":0.3,"hi":0.325,"m":0.31},{"a":0,"b":1,"lo":0.325,"hi":0.35,"m":0.34},{"a":0,"b":1,"lo":0.35,"hi":0.375,"m":0.36},{"a":0,"b":1,"lo":0.375,"hi":0.4,"m":0.39},{"a":0,"b":1,"lo":0.4,"hi":0.425,"m":0.41},{"a":0,"b":1,"lo":0.425,"hi":0.45,"m":0.44},{"a":0,"b":1,"lo":0.45,"hi":0.475,"m":0.46},{"a":0,"b":1,"lo":0.475,"hi":0.5,"m":0.49},{"a":0,"b":1,"lo":0.5,"hi":0.525,"m":0.51},{"a":0,"b":1,"lo":0.525,"hi":0.55,"m":0.54},{"a":0,"b":1,"lo":0.55,"hi":0.575,"m":0.56},{"a":0,"b":1,"lo":0.575,"hi":0.6,"m":0.59},{"a":0,"b":1,"lo":0.6,"hi":0.625,"m":0.61},{"a":0,"b":1,"lo":0.625,"hi":0.65,"m":0.64},{"a":0,"b":1,"lo":0.65,"hi":0.675,"m":0.66},{"a":0,"b":1,"lo":0.675,"hi":0.7,"m":0.69},{"a":0,"b":1,"lo":0.7,"hi":0.725,"m":0.71},{"a":0,"b":1,"lo":0.725,"hi":0.75,"m":0.74},{"a":0,"b":1,"lo":0.75,"hi":0.775,"m":0.76},{"a":0,"b":1,"lo":0.775,"hi":0.8,"m":0.79},{"a":0,"b":1,"lo":0.8,"hi":0.825,"m":0.81},{"a":0,"b":1,"lo":0.825,"hi":0.85,"m":0.84},{"a":0,"b":1,"lo":0.85,"hi":0.875,"m":0.86},{"a":0,"b":1,"lo":0.875,"hi":0.9,"m":0.89},{"a":0,"b":1,"lo":0.9,"hi":0.925,"m":0.91},{"a":0,"b":1,"lo":0.925,"hi":0.95,"m":0.94},{"a":0,"b":1,"lo":0.95,"hi":0.975,"m":0.96},{"a":0,"b":1,"lo":0.975,"hi":0.998,"m":0.99}]
}}
